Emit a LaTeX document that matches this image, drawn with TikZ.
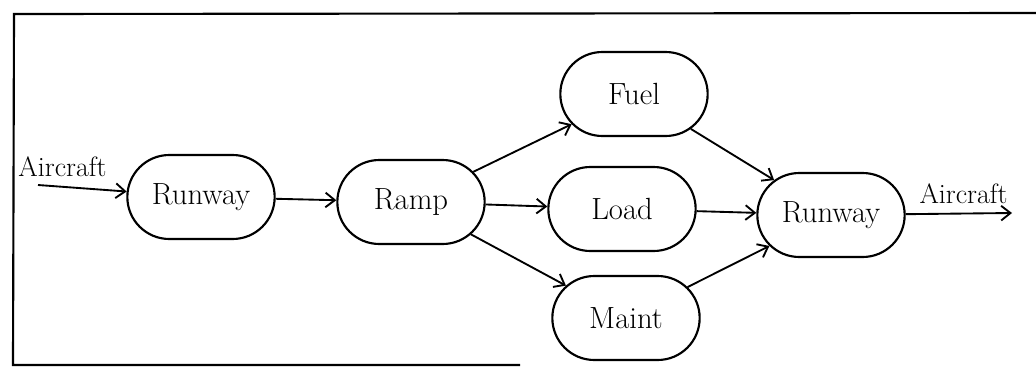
\documentclass[tikz,border=0pt]{standalone}
\usetikzlibrary{shapes.misc,arrows.meta}

\tikzset{every picture/.style={line width=0.75pt}}
\tikzset{
  station/.style={draw, rounded rectangle, line width=1.6pt, minimum width=112pt, minimum height=63pt, inner sep=0.75pt, font=\fontsize{23}{27}\selectfont},
  flow/.style={line width=1.4pt, -{Straight Barb[length=7pt,width=11pt,line width=1.4pt]}},
  flowlabel/.style={inner sep=0.75pt, font=\fontsize{21}{25}\selectfont}
}

\begin{document}
\begin{tikzpicture}[x=0.75pt,y=0.75pt,yscale=-1,xscale=1]
\useasboundingbox (0,0) rectangle (1036,368);

%Frame
\draw [line width=1.6pt]  (1036,13) -- (14,14) -- (13,365) -- (520,365) ;

%Stations
\node [station] (runwayin) at (201,197) {Runway};
\node [station] (ramp) at (411,202) {Ramp};
\node [station] (fuel) at (634,94) {Fuel};
\node [station] (load) at (622,209) {Load};
\node [station] (maint) at (626,318) {Maint};
\node [station] (runwayout) at (831,215) {Runway};

%Free ends
\coordinate (src) at (38,185);
\coordinate (sink) at (1012,213);

%Straight Lines
\draw [flow] (src) -- (runwayin) ;
\draw [flow] (runwayin) -- (ramp) ;
\draw [flow] (ramp) -- (fuel) ;
\draw [flow] (ramp) -- (load) ;
\draw [flow] (ramp) -- (maint) ;
\draw [flow] (fuel) -- (runwayout) ;
\draw [flow] (load) -- (runwayout) ;
\draw [flow] (maint) -- (runwayout) ;
\draw [flow] (runwayout) -- (sink) ;

% Text Node
\node [flowlabel, anchor=south west] (inlabel) at (17,178) {Aircraft};
% Text Node
\node [flowlabel, anchor=south west] (outlabel) at (918,205) {Aircraft};

\end{tikzpicture}
\end{document}
